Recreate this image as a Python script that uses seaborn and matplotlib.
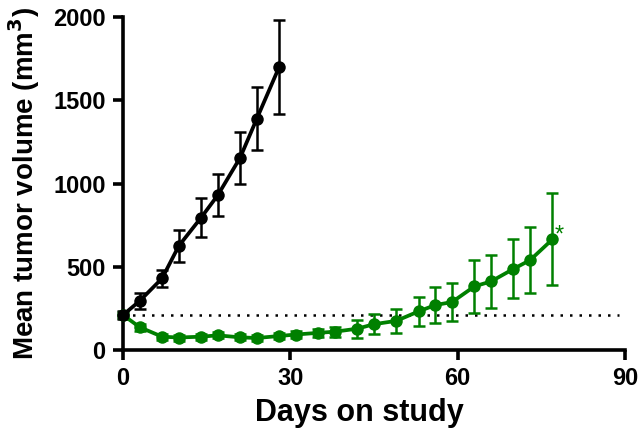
import matplotlib
matplotlib.use("Agg")
import matplotlib.pyplot as plt
import seaborn as sns
import pandas as pd

black_days = [0, 3, 7, 10, 14, 17, 21, 24, 28]
black_mean = [210, 295, 430, 625, 795, 930, 1155, 1390, 1700]
black_sem = [25, 50, 50, 95, 115, 125, 155, 190, 280]

green_days = [0, 3, 7, 10, 14, 17, 21, 24, 28, 31, 35, 38, 42, 45, 49, 53, 56, 59, 63, 66, 70, 73, 77]
green_mean = [210, 137, 80, 75, 80, 88, 76, 72, 84, 93, 103, 110, 128, 155, 175, 232, 270, 288, 382, 412, 487, 540, 665]
green_sem = [20, 20, 18, 18, 18, 18, 18, 18, 20, 22, 25, 30, 55, 60, 72, 87, 106, 116, 161, 157, 177, 200, 275]

baseline = 210
x_ticks = [0, 30, 60, 90]
y_ticks = [0, 500, 1000, 1500, 2000]

GREEN = "#008000"

sns.set_theme(style="ticks")
plt.rcParams["font.family"] = ["Liberation Sans", "DejaVu Sans"]
plt.rcParams["font.weight"] = "bold"
plt.rcParams["text.color"] = "black"
plt.rcParams["axes.labelcolor"] = "black"
plt.rcParams["xtick.color"] = "black"
plt.rcParams["ytick.color"] = "black"

df = pd.concat([
    pd.DataFrame({"day": green_days, "vol": green_mean, "grp": "treated"}),
    pd.DataFrame({"day": black_days, "vol": black_mean, "grp": "control"}),
])

fig = plt.figure(figsize=(6.41, 4.36), dpi=100)
ax = fig.add_axes([123 / 641, 1 - 350 / 436, (625 - 123) / 641, (350 - 17) / 436])

ax.plot([0, 89], [baseline, baseline], color="black", lw=1.8,
        linestyle=(0, (1, 2.8)), zorder=1)

for days, mean, sem, col in [(green_days, green_mean, green_sem, GREEN),
                             (black_days, black_mean, black_sem, "black")]:
    ax.errorbar(days, mean, yerr=sem, fmt="none", ecolor=col, elinewidth=1.8,
                capsize=4, capthick=1.8, clip_on=False, zorder=2)

sns.lineplot(data=df, x="day", y="vol", hue="grp",
             palette={"control": "black", "treated": GREEN},
             hue_order=["treated", "control"],
             marker="o", markersize=9, markeredgewidth=0, linewidth=2.7,
             legend=False, ax=ax, zorder=3)
for ln in ax.lines:
    ln.set_clip_on(False)

ax.annotate("*", xy=(green_days[-1], green_mean[-1]), xytext=(4.5, -5.5),
            textcoords="offset points", color=GREEN, fontsize=17,
            fontweight="normal", ha="center", va="bottom")

ax.set_xlim(0, 90)
ax.set_ylim(0, 2000)
ax.set_xticks(x_ticks)
ax.set_yticks(y_ticks)
for s in ["top", "right"]:
    ax.spines[s].set_visible(False)
for s in ["left", "bottom"]:
    ax.spines[s].set_linewidth(2.6)
    ax.spines[s].set_color("black")
ax.tick_params(axis="both", width=2.6, length=7.5, color="black",
               labelsize=17, pad=5, labelcolor="black")
for lab in ax.get_xticklabels() + ax.get_yticklabels():
    lab.set_fontweight("bold")

ax.set_xlabel("Days on study", fontsize=22, fontweight="bold", labelpad=7)
ax.xaxis.set_label_coords(0.47, -0.145)
ax.set_ylabel("Mean tumor volume (mm$^\\mathbf{3}$)", fontsize=20,
              fontweight="bold", labelpad=8)

fig.savefig("out.png", dpi=100)
